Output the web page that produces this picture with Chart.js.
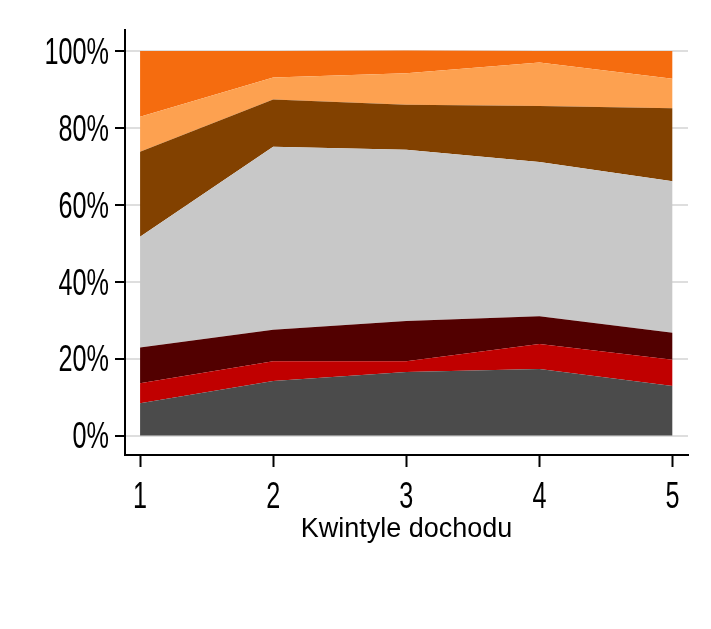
<!DOCTYPE html>
<html>
<head>
<meta charset="utf-8">
<script src="https://cdn.jsdelivr.net/npm/chart.js@4/dist/chart.umd.min.js"></script>
<style>
  html, body { margin: 0; padding: 0; background: #ffffff; }
  #wrap { width: 711px; height: 629px; }
</style>
</head>
<body>
<div id="wrap"><canvas id="c" width="711" height="629"></canvas></div>
<script>
// Income quintiles
const quintiles = [1, 2, 3, 4, 5];
const yTickValues = [0, 20, 40, 60, 80, 100];
const xTitle = 'Kwintyle dochodu';

// Layer shares (%) from bottom to top
const layer1 = [8.4, 14.2, 16.5, 17.3, 12.9];   // dark grey
const layer2 = [5.2, 5.1, 2.8, 6.5, 6.8];       // red
const layer3 = [9.3, 8.2, 10.5, 7.2, 7.0];      // dark red
const layer4 = [28.8, 47.6, 44.5, 40.1, 39.4];  // light grey
const layer5 = [22.1, 12.3, 11.7, 14.6, 19.0];  // brown
const layer6 = [9.1, 5.7, 8.2, 11.3, 7.7];      // light orange
const layer7 = [17.1, 6.9, 5.9, 3.0, 7.2];      // orange

const layers = [layer1, layer2, layer3, layer4, layer5, layer6, layer7];
const colors = ['#4b4b4b', '#c00000', '#520000', '#c8c8c8', '#824100', '#fda150', '#f56c0f'];

const FONT = '"Liberation Sans", Arial, sans-serif';
const TICK_SIZE = 36;
const SQUEEZE = 0.7; // condensed look of the original tick labels

const datasets = layers.map((vals, i) => ({
  label: 'S' + (i + 1),
  data: quintiles.map((q, j) => ({ x: q, y: vals[j] })),
  backgroundColor: colors[i],
  borderColor: colors[i],
  borderWidth: 0,
  pointRadius: 0,
  pointHoverRadius: 0,
  tension: 0,
  fill: i === 0 ? 'origin' : '-1'
}));

// Draws the axis tick labels in a condensed form, positioned by the chart's scales
const condensedTicks = {
  id: 'condensedTicks',
  afterDraw(chart) {
    const ctx = chart.ctx;
    const xs = chart.scales.x, ys = chart.scales.y;
    ctx.save();
    ctx.fillStyle = '#000000';
    ctx.font = TICK_SIZE + 'px ' + FONT;
    ctx.textBaseline = 'alphabetic';
    const capHalf = TICK_SIZE * 0.716 / 2;
    // y labels
    ctx.textAlign = 'right';
    yTickValues.forEach(v => {
      const py = ys.getPixelForValue(v);
      ctx.save();
      ctx.translate(ys.right - 16, py + capHalf);
      ctx.scale(SQUEEZE, 1);
      ctx.fillText(v + '%', 0, 0);
      ctx.restore();
    });
    // x labels
    ctx.textAlign = 'center';
    quintiles.forEach(v => {
      const px = xs.getPixelForValue(v);
      ctx.save();
      ctx.translate(px, xs.top + 53);
      ctx.scale(SQUEEZE, 1);
      ctx.fillText(String(v), 0, 0);
      ctx.restore();
    });
    ctx.restore();
  }
};

new Chart(document.getElementById('c'), {
  type: 'line',
  data: { datasets },
  plugins: [condensedTicks],
  options: {
    responsive: false,
    animation: false,
    events: [],
    layout: { padding: { top: 30, right: 23, left: 0, bottom: 0 } },
    plugins: { legend: { display: false }, tooltip: { enabled: false } },
    scales: {
      x: {
        type: 'linear',
        min: 0.887,
        max: 5.116,
        afterBuildTicks: (axis) => { axis.ticks = quintiles.map(v => ({ value: v })); },
        afterFit: (axis) => { axis.height = 174; },
        grid: { drawOnChartArea: false, drawTicks: true, tickLength: 12, tickColor: '#000000', tickWidth: 2 },
        border: { display: true, color: '#000000', width: 2 },
        ticks: { display: false },
        title: {
          display: true,
          text: xTitle,
          color: '#000000',
          font: { family: FONT, size: 27 },
          padding: { top: 0, bottom: 83 }
        }
      },
      y: {
        type: 'linear',
        stacked: true,
        min: -5.07,
        max: 105.46,
        afterBuildTicks: (axis) => { axis.ticks = yTickValues.map(v => ({ value: v })); },
        afterFit: (axis) => { axis.width = 125; },
        grid: { color: '#dedede', lineWidth: 2, drawTicks: true, tickLength: 10, tickColor: '#000000', tickWidth: 2 },
        border: { display: true, color: '#000000', width: 2 },
        ticks: { display: false }
      }
    }
  }
});
</script>
</body>
</html>
